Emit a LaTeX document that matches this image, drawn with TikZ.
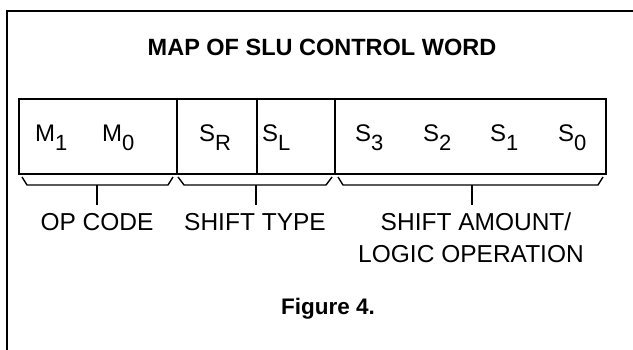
\documentclass[tikz,border=0pt]{standalone}
\usepackage{fontspec}
\setmainfont{Liberation Sans}
\newcommand{\lowsub}[1]{\raisebox{-9pt}{\fontsize{22}{22}\selectfont #1}}
\begin{document}
\begin{tikzpicture}[x=1pt,y=-1pt,
  frameline/.style={line width=1.5pt},
  cell/.style={draw, line width=1.3pt, inner sep=0pt, minimum height=75pt},
  bit/.style={inner sep=0pt, anchor=base west, font=\fontsize{24}{24}\selectfont},
  bracepath/.style={line width=1.4pt, line join=round},
  stem/.style={line width=1.4pt},
  lab/.style={inner sep=0pt, anchor=base, font=\fontsize{24.5}{24.5}\selectfont},
  title/.style={inner sep=0pt, anchor=base, font=\bfseries\fontsize{23.5}{23.5}\selectfont},
  caption/.style={inner sep=0pt, anchor=base, font=\bfseries\fontsize{22.5}{22.5}\selectfont}]
\useasboundingbox (0,0) rectangle (633,350);
% frame
\draw[frameline] (633,11) -- (7,11) -- (7,350);
% title
\node[title] (ttl) at (322,56) {MAP OF SLU CONTROL WORD};
% cells
\node[cell, minimum width=158pt] (c1) at (98,136.5) {};
\node[cell, minimum width=80pt] (c2) at (217,136.5) {};
\node[cell, minimum width=78pt] (c3) at (296,136.5) {};
\node[cell, minimum width=271pt] (c4) at (470.5,136.5) {};
% bits
\node[bit] (m1) at (35,142) {M\lowsub{1}};
\node[bit] (m0) at (102,142) {M\lowsub{0}};
\node[bit] (sr) at (199,142) {S\lowsub{R}};
\node[bit] (sl) at (262,142) {S\lowsub{L}};
\node[bit] (s3) at (355,142) {S\lowsub{3}};
\node[bit] (s2) at (423,142) {S\lowsub{2}};
\node[bit] (s1) at (490,142) {S\lowsub{1}};
\node[bit] (s0) at (558,142) {S\lowsub{0}};
% braces
\coordinate (b1) at (97,185);
\coordinate (b2) at (256,185);
\coordinate (b3) at (472,185);
\draw[bracepath] (22,177) -- (27,185) -- (b1) -- (168,185) -- (173,177);
\draw[bracepath] (178,177) -- (184,185) -- (b2) -- (326,185) -- (332,177);
\draw[bracepath] (338,177) -- (343,185) -- (b3) -- (598,185) -- (603,177);
% stems
\coordinate (e1) at (97,205);
\coordinate (e2) at (256,205);
\coordinate (e3) at (472,205);
\draw[stem] (b1) -- (e1);
\draw[stem] (b2) -- (e2);
\draw[stem] (b3) -- (e3);
% labels
\node[lab] (l1) at (97,231) {OP CODE};
\node[lab] (l2) at (255,231) {SHIFT TYPE};
\node[lab] (l3a) at (476,231) {SHIFT AMOUNT/};
\node[lab] (l3b) at (471,263) {LOGIC OPERATION};
% caption
\node[caption] (cap) at (328,315) {Figure 4.};
\end{tikzpicture}
\end{document}
